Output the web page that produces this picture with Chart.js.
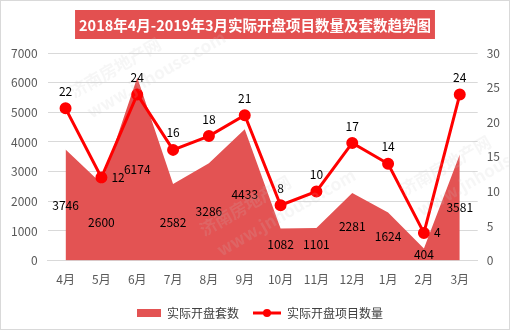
<!DOCTYPE html>
<html>
<head>
<meta charset="utf-8">
<script src="https://cdn.jsdelivr.net/npm/chart.js@4.4.1/dist/chart.umd.min.js"></script>
<style>
  html, body { margin: 0; padding: 0; background: #fff; }
  #wrap { position: relative; width: 508px; height: 328px; border: 1px solid #d9d9d9; }
</style>
</head>
<body>
<div id="wrap"><canvas id="chart"></canvas></div>
<script>
// data
var titleText = "2018年4月-2019年3月实际开盘项目数量及套数趋势图";
var months = ["4月", "5月", "6月", "7月", "8月", "9月", "10月", "11月", "12月", "1月", "2月", "3月"];
var unitCounts = [3746, 2600, 6174, 2582, 3286, 4433, 1082, 1101, 2281, 1624, 404, 3581];
var projectCounts = [22, 12, 24, 16, 18, 21, 8, 10, 17, 14, 4, 24];
var projectLabelSide = ["top", "right", "top", "top", "top", "top", "top", "top", "top", "top", "right", "top"];
var seriesNames = ["实际开盘套数", "实际开盘项目数量"];

var font = "'Noto Sans CJK SC', 'Microsoft YaHei', sans-serif";
var areaColor = "#E35353";
var lineColor = "#FF0000";

// legend icons (blank space on the left keeps the items apart)
function makeIcon(w, h, draw) {
  var c = document.createElement("canvas");
  c.width = w; c.height = h;
  draw(c.getContext("2d"));
  return c;
}
var areaIcon = makeIcon(34, 10, function (g) {
  g.fillStyle = areaColor; g.fillRect(10, 1, 24, 8);
});
var lineIcon = makeIcon(34, 10, function (g) {
  g.strokeStyle = lineColor; g.lineWidth = 3;
  g.beginPath(); g.moveTo(6, 5); g.lineTo(34, 5); g.stroke();
  g.fillStyle = lineColor; g.beginPath(); g.arc(20, 5, 4, 0, Math.PI * 2); g.fill();
});

var decor = {
  id: "decor",
  beforeDraw: function (chart) {
    var ctx = chart.ctx;
    ctx.save();
    ctx.font = "bold 14.5px " + font;
    var w = ctx.measureText(titleText).width;
    var cx = chart.width / 2;
    ctx.fillStyle = "#E35050";
    ctx.fillRect(cx - w / 2 - 4, 9, w + 8, 29);
    ctx.fillStyle = "#fff";
    ctx.textAlign = "center";
    ctx.textBaseline = "middle";
    ctx.fillText(titleText, cx, 24);
    ctx.restore();
  },
  afterDatasetsDraw: function (chart) {
    var ctx = chart.ctx;
    ctx.save();
    ctx.font = "12px " + font;
    ctx.fillStyle = "#000";
    ctx.textAlign = "center";
    ctx.textBaseline = "middle";
    var yS = chart.scales.y;
    var meta0 = chart.getDatasetMeta(0);
    meta0.data.forEach(function (p, i) {
      var yMid = yS.getPixelForValue(unitCounts[i] / 2);
      ctx.fillText(String(unitCounts[i]), p.x, yMid);
    });
    var meta1 = chart.getDatasetMeta(1);
    meta1.data.forEach(function (p, i) {
      if (projectLabelSide[i] === "right") {
        ctx.textAlign = "left";
        ctx.fillText(String(projectCounts[i]), p.x + 10, p.y);
      } else {
        ctx.textAlign = "center";
        ctx.fillText(String(projectCounts[i]), p.x, p.y - 17);
      }
    });
    ctx.restore();
  },
  afterDraw: function (chart) {
    var ctx = chart.ctx;
    ctx.save();
    ctx.fillStyle = "rgba(200,200,200,0.16)";
    var marks = [[70, 92], [200, 230], [400, 190]];
    marks.forEach(function (m) {
      ctx.save();
      ctx.translate(m[0], m[1]);
      ctx.rotate(-0.52);
      ctx.font = "bold 17px " + font;
      ctx.fillText("济南房地产网", 0, 0);
      ctx.fillText("www.jnhouse.com", 5, 26);
      ctx.restore();
    });
    ctx.restore();
  }
};

new Chart(document.getElementById("chart"), {
  type: "line",
  data: {
    labels: months,
    datasets: [{
      label: seriesNames[0],
      data: unitCounts,
      yAxisID: "y",
      fill: "origin",
      backgroundColor: areaColor,
      borderWidth: 0,
      pointRadius: 0,
      tension: 0,
      order: 2
    }, {
      label: seriesNames[1],
      data: projectCounts,
      yAxisID: "y1",
      fill: false,
      borderColor: lineColor,
      backgroundColor: lineColor,
      borderWidth: 3,
      pointRadius: 4.5,
      pointBackgroundColor: lineColor,
      pointBorderColor: lineColor,
      tension: 0,
      order: 1
    }]
  },
  options: {
    responsive: true,
    maintainAspectRatio: false,
    animation: false,
    layout: { padding: { top: 52, left: 0, right: 0, bottom: 0 } },
    plugins: {
      title: { display: false },
      tooltip: { enabled: false },
      legend: {
        position: "bottom",
        labels: {
          usePointStyle: true,
          pointStyleWidth: 34,
          font: { family: font, size: 12 },
          color: "#404040",
          padding: 8,
          generateLabels: function (chart) {
            return [
              { text: seriesNames[0], pointStyle: areaIcon, datasetIndex: 0, fontColor: "#404040" },
              { text: seriesNames[1], pointStyle: lineIcon, datasetIndex: 1, fontColor: "#404040" }
            ];
          }
        }
      }
    },
    scales: {
      x: {
        offset: true,
        grid: { display: false, drawTicks: false },
        border: { color: "#D9D9D9" },
        ticks: { color: "#595959", font: { family: font, size: 12 }, padding: 12, maxRotation: 0 }
      },
      y: {
        position: "left",
        min: 0, max: 7000,
        ticks: {
          stepSize: 1000, color: "#595959", font: { family: font, size: 12 }, padding: 10,
          callback: function (v) { return String(v); }
        },
        grid: { color: "#D9D9D9", drawTicks: false },
        border: { display: false }
      },
      y1: {
        position: "right",
        min: 0, max: 30,
        ticks: { stepSize: 5, color: "#595959", font: { family: font, size: 12 }, padding: 9 },
        grid: { display: false, drawTicks: false },
        border: { display: false }
      }
    }
  },
  plugins: [decor]
});
</script>
</body>
</html>
